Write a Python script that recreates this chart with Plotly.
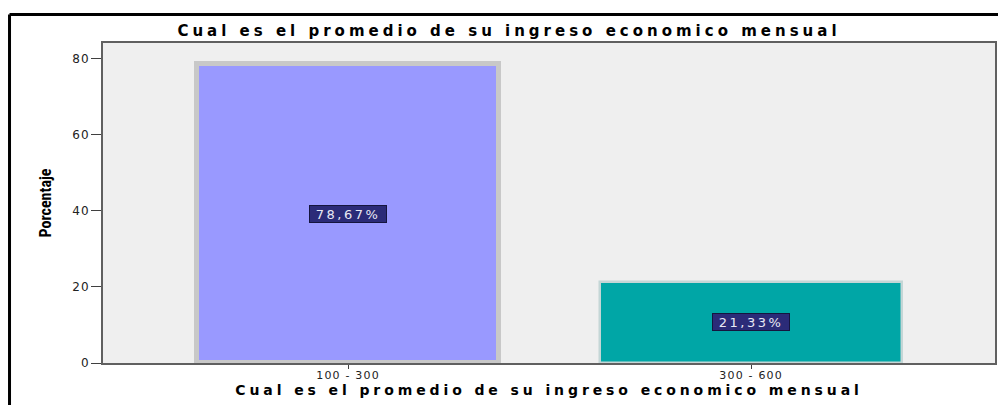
import plotly.graph_objects as go

categories = ["100 - 300", "300 - 600"]
percentages = [78.67, 21.33]
y_ticks = [0, 20, 40, 60, 80]
title_text = "Cual es el promedio de su ingreso economico mensual"
y_title = "Porcentaje"

x_pos = list(range(len(categories)))
labels = [f"{v:.2f}".replace(".", ",") + "%" for v in percentages]

fig = go.Figure()
fig.add_trace(go.Bar(
    x=x_pos, y=percentages, width=0.75,
    marker=dict(color=["#9999ff", "#00a6a6"],
                line=dict(color=["#c8c8c8", "#c4d6d6"], width=[5, 2.5])),
    hoverinfo="skip",
))

for xp, v, t in zip(x_pos, percentages, labels):
    fig.add_annotation(x=xp, y=v / 2, text=t, showarrow=False,
                       font=dict(family="DejaVu Sans", size=13, color="#e8e8f4"),
                       bgcolor="#2b2b78", bordercolor="#15153f", borderwidth=1,
                       borderpad=1, width=74, height=14, align="center",
                       xref="x", yref="y")

# outer frame (left and top black rules)
fig.add_shape(type="line", xref="paper", yref="paper", x0=-0.1048, x1=-0.1048,
              y0=-0.3, y1=1.089, line=dict(color="black", width=3))
fig.add_shape(type="line", xref="paper", yref="paper", x0=-0.1048, x1=1.2,
              y0=1.089, y1=1.089, line=dict(color="black", width=3))

fig.update_layout(
    width=998, height=405,
    margin=dict(l=103, r=3, t=43, b=42, autoexpand=False),
    paper_bgcolor="white", plot_bgcolor="#efefef",
    showlegend=False,
    title=dict(text=title_text, x=0.51, xanchor="center", y=1 - 31 / 405,
               yanchor="middle", xref="container", yref="container",
               font=dict(family="DejaVu Sans", size=15, color="black", weight="bold")),
    bargap=0,
)
fig.update_xaxes(
    range=[-0.608, 1.605], tickmode="array", tickvals=x_pos, ticktext=categories,
    showline=True, mirror=True, linecolor="#606060", linewidth=2,
    ticks="outside", ticklen=4, tickcolor="#404040", showgrid=False, zeroline=False,
    automargin=False, ticklabelstandoff=-3,
    tickfont=dict(family="DejaVu Sans", size=11, color="#222222"),
    title=dict(text=title_text, standoff=2,
               font=dict(family="DejaVu Sans", size=14, color="black", weight="bold")),
)
fig.update_yaxes(
    range=[0, 84.2], tickmode="array", tickvals=y_ticks,
    showline=True, mirror=True, linecolor="#606060", linewidth=2,
    ticks="outside", ticklen=10, tickcolor="#404040", showgrid=False, zeroline=False,
    automargin=False, ticklabelstandoff=-1,
    tickfont=dict(family="DejaVu Sans", size=12, color="#222222"),
    title=dict(text=y_title, standoff=19,
               font=dict(family="Liberation Sans Narrow, Roboto Condensed, Liberation Sans",
                         size=16, color="black", weight="bold")),
)

post = """
document.body.style.margin = '0';
document.body.style.overflow = 'hidden';
var gd = document.getElementsByClassName('plotly-graph-div')[0];
function sp(sel, ls){ gd.querySelectorAll(sel).forEach(function(e){ e.style.letterSpacing = ls; }); }
sp('.gtitle', '4.0px');
sp('.xtitle', '3.9px');
sp('.xtick text', '1.2px');
sp('.ytick text', '1px');
sp('.annotation-text', '2.5px');
"""
fig.write_html("out.html", post_script=post, config={"displayModeBar": False})
